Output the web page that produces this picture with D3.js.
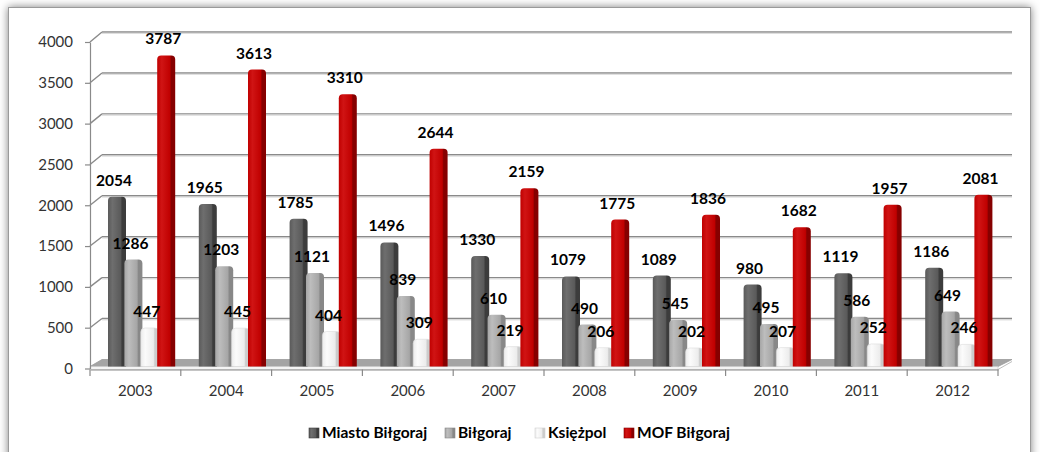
<!DOCTYPE html>
<html><head><meta charset="utf-8">
<script src="https://cdn.jsdelivr.net/npm/d3@7/dist/d3.min.js"></script>
<style>
html,body{margin:0;padding:0;background:#fff;}
svg{display:block;font-family:Lato,"Open Sans",sans-serif;}
</style></head>
<body>
<svg id="chart" width="1040" height="452"></svg>
<script>
const years = ["2003","2004","2005","2006","2007","2008","2009","2010","2011","2012"];
const seriesNames = ["Miasto Biłgoraj","Biłgoraj","Księżpol","MOF Biłgoraj"];
const miasto   = [2054,1965,1785,1496,1330,1079,1089,980,1119,1186];
const bilgoraj = [1286,1203,1121,839,610,490,545,495,586,649];
const ksiezpol = [447,445,404,309,219,206,202,207,252,246];
const mof      = [3787,3613,3310,2644,2159,1775,1836,1682,1957,2081];
const yTicks   = [0,500,1000,1500,2000,2500,3000,3500,4000];

const seriesData = [miasto, bilgoraj, ksiezpol, mof];
const palettes = [
  {base:"#5a5a5a", light:"#6e6e6e", side:"#3c3c3c", stroke:"none"},
  {base:"#a6a6a6", light:"#bdbdbd", side:"#888888", stroke:"none"},
  {base:"#ececec", light:"#fbfbfb", side:"#cccccc", stroke:"#dcdcdc"},
  {base:"#c00000", light:"#d01414", side:"#860000", stroke:"none"}
];

const svg = d3.select("#chart");
const defs = svg.append("defs");

const f = defs.append("filter").attr("id","sh").attr("x","-5%").attr("y","-5%").attr("width","110%").attr("height","115%");
f.append("feDropShadow").attr("dx",0).attr("dy",0).attr("stdDeviation",4).attr("flood-color","#000").attr("flood-opacity",0.5);

palettes.forEach((p,i)=>{
  const g = defs.append("linearGradient").attr("id","g"+i).attr("x1","0").attr("x2","1").attr("y1","0").attr("y2","0");
  g.append("stop").attr("offset","0").attr("stop-color",p.base);
  g.append("stop").attr("offset","0.25").attr("stop-color",p.light);
  g.append("stop").attr("offset","0.7").attr("stop-color",p.base);
  g.append("stop").attr("offset","0.78").attr("stop-color",p.side);
  g.append("stop").attr("offset","1").attr("stop-color",p.side);
});

// frame
svg.append("rect").attr("x",8.5).attr("y",7.5).attr("width",1022).attr("height",470)
  .attr("fill","#fff").attr("stroke","#9a9a9a").attr("stroke-width",1).attr("filter","url(#sh)");

// scales
const x = d3.scaleBand().domain(years).range([90, 998]).paddingInner(0).paddingOuter(0);
const yFront = d3.scaleLinear().domain([0,4000]).range([368.5, 42]);
const yBack  = d3.scaleLinear().domain([0,4000]).range([359.5, 32]);
const sub = d3.scaleBand().domain(seriesNames).range([18, 18 + 4*16.4]).paddingInner(0);
const DX = 12;
const xBackL = 90 + DX, xBackR = 1012;

// gridlines
const grid = svg.append("g");
yTicks.forEach(t=>{
  if (t===0) return;
  grid.append("line").attr("x1",90).attr("y1",yFront(t)).attr("x2",xBackL).attr("y2",yBack(t))
    .attr("stroke","#8a8a8a").attr("stroke-width",1.4);
  grid.append("line").attr("x1",xBackL).attr("y1",yBack(t)).attr("x2",xBackR).attr("y2",yBack(t))
    .attr("stroke","#8a8a8a").attr("stroke-width",1.4);
  grid.append("line").attr("x1",xBackL).attr("y1",yBack(t)+1.3).attr("x2",xBackR).attr("y2",yBack(t)+1.3)
    .attr("stroke","#d6d6d6").attr("stroke-width",1);
});

// floor
const fy0 = yBack(0), fy1 = 366.5;
svg.append("path")
  .attr("d",`M90,${fy1} L${xBackL},${fy0} L${xBackR},${fy0} L998,${fy1} Z`)
  .attr("fill","#a4a4a4").attr("stroke","#9a9a9a").attr("stroke-width",0.8);
svg.append("path")
  .attr("d",`M90,${fy1} L998,${fy1} L998,${fy1+3} L90,${fy1+3} Z`)
  .attr("fill","#f4f4f4").attr("stroke","#c8c8c8").attr("stroke-width",0.6);
svg.append("line").attr("x1",998).attr("y1",fy1+3).attr("x2",xBackR).attr("y2",fy0+2)
  .attr("stroke","#bdbdbd").attr("stroke-width",1);

// bars
const W = 18, R = 4;
const barsG = svg.append("g");
years.forEach((yr,i)=>{
  seriesNames.forEach((s,k)=>{
    const v = seriesData[k][i];
    const bx = x(yr) + sub(s);
    const yt = yFront(v) - 4;
    const yb = fy1;
    barsG.append("path")
      .attr("d",`M${bx},${yb} L${bx},${yt+R} Q${bx},${yt} ${bx+R},${yt} L${bx+W-R},${yt} Q${bx+W},${yt} ${bx+W},${yt+R} L${bx+W},${yb} Z`)
      .attr("fill",`url(#g${k})`).attr("stroke",palettes[k].stroke).attr("stroke-width",0.6);
  });
});

// value labels
const lab = svg.append("g").attr("font-weight",700).attr("font-size",15.5).attr("fill","#000").attr("text-anchor","middle");
years.forEach((yr,i)=>{
  seriesNames.forEach((s,k)=>{
    const v = seriesData[k][i];
    const cx = x(yr) + sub(s) + W/2 - 3;
    lab.append("text").attr("x",cx).attr("y",yFront(v)-15).text(v);
  });
});

// y axis
const yAxis = d3.axisLeft(yFront).tickValues(yTicks).tickSize(5).tickSizeOuter(0).tickPadding(12).tickFormat(d3.format("d"));
const ya = svg.append("g").attr("transform","translate(90,0)").call(yAxis);
ya.select(".domain").attr("stroke","#8a8a8a").attr("stroke-width",1.2);
ya.selectAll(".tick line").attr("stroke","#8a8a8a").attr("stroke-width",1.2);
ya.selectAll(".tick text").attr("font-size",15).attr("fill","#333").attr("font-family","Lato, sans-serif");

// x axis
const xAxis = d3.axisBottom(x).tickSize(0).tickPadding(16).tickSizeOuter(0);
const xa = svg.append("g").attr("transform","translate(0,369.5)").call(xAxis);
xa.select(".domain").attr("stroke","#8a8a8a").attr("stroke-width",1.2);
xa.selectAll(".tick text").attr("font-size",15).attr("fill","#333").attr("font-family","Lato, sans-serif");
const bounds = years.map(y=>x(y)).concat([x(years[years.length-1]) + x.bandwidth()]);
svg.append("g").selectAll("line").data(bounds).join("line")
  .attr("x1",d=>d).attr("x2",d=>d).attr("y1",369.5).attr("y2",376)
  .attr("stroke","#8a8a8a").attr("stroke-width",1.2);

// legend
const legendX = [309, 445, 535, 624];
const lg = svg.append("g").attr("font-weight",700).attr("font-size",15.5).attr("fill","#000");
seriesNames.forEach((s,k)=>{
  lg.append("rect").attr("x",legendX[k]).attr("y",428).attr("width",10).attr("height",10)
    .attr("fill",`url(#g${k})`).attr("stroke",k===2?"#cfcfcf":palettes[k].side).attr("stroke-width",0.6);
  lg.append("text").attr("x",legendX[k]+13).attr("y",438).text(s);
});
</script>
</body></html>
